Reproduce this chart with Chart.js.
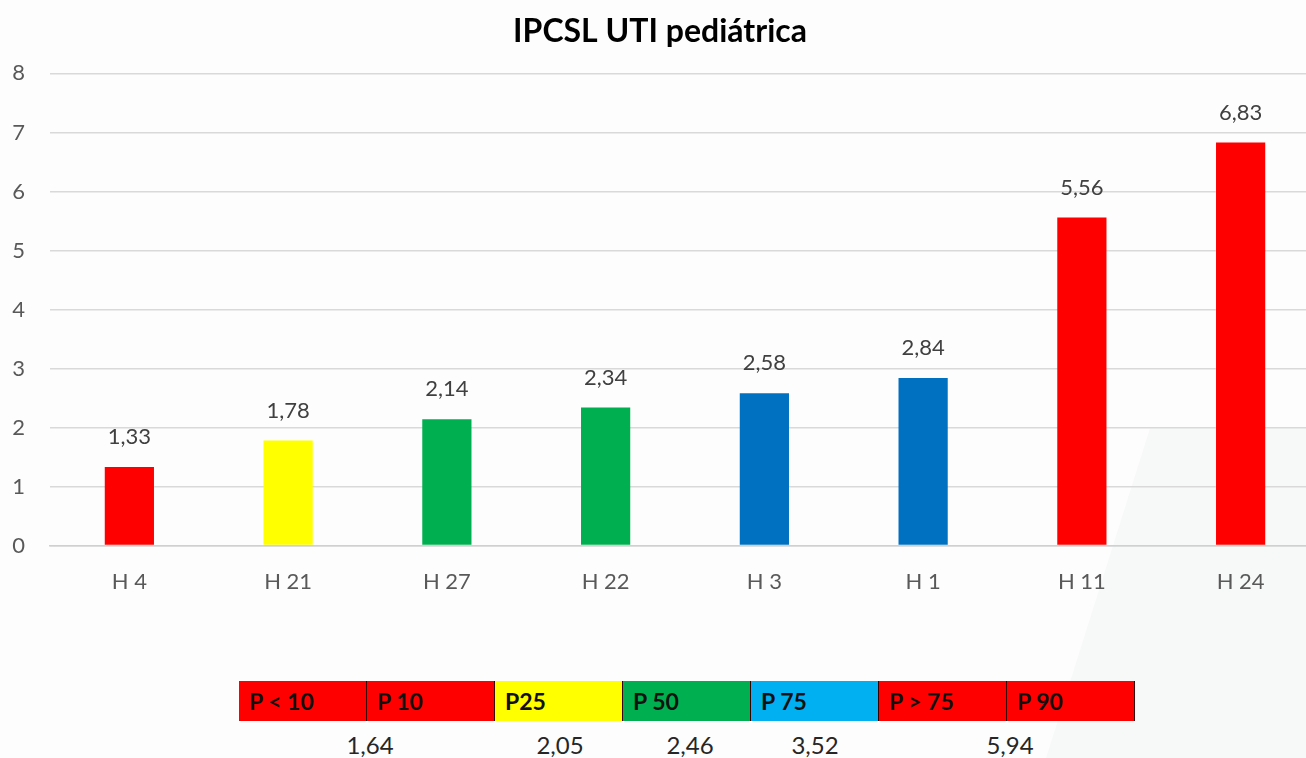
<!DOCTYPE html>
<html lang="pt">
<head>
<meta charset="utf-8">
<title>IPCSL UTI pediátrica</title>
<script src="https://cdn.jsdelivr.net/npm/chart.js@4/dist/chart.umd.min.js"></script>
<style>
  html, body { margin: 0; padding: 0; overflow: hidden; background: #fdfdfd; }
  body { width: 1306px; height: 758px; position: relative; font-family: Lato, "Open Sans", sans-serif; }
  .bg { position: absolute; right: 0; bottom: 0; width: 260px; height: 330px; background: #f7f9f8;
        clip-path: polygon(40% 0, 100% 0, 100% 100%, 0 100%); }
  #wrap { position: absolute; left: 0; top: 0; width: 1320px; height: 646px; }
  #strip { position: absolute; left: 239px; top: 681px; display: flex; }
  .cell { width: 128px; height: 40px; box-sizing: border-box; border-right: 1px solid #3a0000;
          font-weight: 700; font-size: 23px; line-height: 40px; padding-left: 10px; color: #111; }
  .pval { position: absolute; top: 730px; font-size: 24px; color: #262626; transform: translateX(-50%); }
</style>
</head>
<body>
<div class="bg"></div>
<div id="wrap"><canvas id="chart"></canvas></div>
<div id="strip"></div>
<div id="pvals"></div>
<script>
// dados do gráfico
const hospitais = ["H 4", "H 21", "H 27", "H 22", "H 3", "H 1", "H 11", "H 24"];
const taxas = [1.33, 1.78, 2.14, 2.34, 2.58, 2.84, 5.56, 6.83];
const coresBarras = ["#FF0000", "#FFFF00", "#00B050", "#00B050", "#0070C0", "#0070C0", "#FF0000", "#FF0000"];

// faixa de percentis
const percentis = ["P < 10", "P 10", "P25", "P 50", "P 75", "P > 75", "P 90"];
const coresPercentis = ["#FF0000", "#FF0000", "#FFFF00", "#00B050", "#00B0F0", "#FF0000", "#FF0000"];
const valoresPercentis = ["1,64", "2,05", "2,46", "3,52", "5,94"];
const posValores = [370, 560, 690, 815, 1010];

const fmt = (v) => v.toFixed(2).replace(".", ",");

const valueLabels = {
  id: "valueLabels",
  afterDatasetsDraw(chart) {
    const { ctx } = chart;
    const meta = chart.getDatasetMeta(0);
    ctx.save();
    ctx.font = "22px Lato";
    ctx.fillStyle = "#404040";
    ctx.textAlign = "center";
    ctx.textBaseline = "middle";
    meta.data.forEach((bar, i) => {
      ctx.fillText(fmt(taxas[i]), bar.x, bar.y - 30);
    });
    ctx.restore();
  },
};

new Chart(document.getElementById("chart"), {
  type: "bar",
  data: {
    labels: hospitais,
    datasets: [{ data: taxas, backgroundColor: coresBarras, barPercentage: 0.31, categoryPercentage: 1 }],
  },
  options: {
    responsive: true,
    maintainAspectRatio: false,
    animation: false,
    layout: { padding: { left: 0, right: 0, top: 12, bottom: 28 } },
    plugins: {
      legend: { display: false },
      tooltip: { enabled: false },
      title: {
        display: true,
        text: "IPCSL UTI pediátrica",
        color: "#000",
        font: { family: "Lato", size: 32, weight: "bold" },
        padding: { top: 0, bottom: 23 },
      },
    },
    scales: {
      x: {
        grid: { display: false, drawTicks: false },
        border: { color: "#d0d0d0", width: 1.5 },
        ticks: { color: "#595959", font: { family: "Lato", size: 22 }, padding: 23 },
      },
      y: {
        min: 0,
        max: 8,
        afterFit: (s) => { s.width = 50; },
        grid: { color: "#d9d9d9", lineWidth: 1.5, drawTicks: false },
        border: { display: false },
        ticks: { stepSize: 1, color: "#595959", font: { family: "Lato", size: 22 }, padding: 25 },
      },
    },
  },
  plugins: [valueLabels],
});

const strip = document.getElementById("strip");
percentis.forEach((p, i) => {
  const c = document.createElement("div");
  c.className = "cell";
  c.style.background = coresPercentis[i];
  c.textContent = p;
  strip.appendChild(c);
});
const pv = document.getElementById("pvals");
valoresPercentis.forEach((v, i) => {
  const d = document.createElement("div");
  d.className = "pval";
  d.style.left = posValores[i] + "px";
  d.textContent = v;
  pv.appendChild(d);
});
</script>
</body>
</html>
